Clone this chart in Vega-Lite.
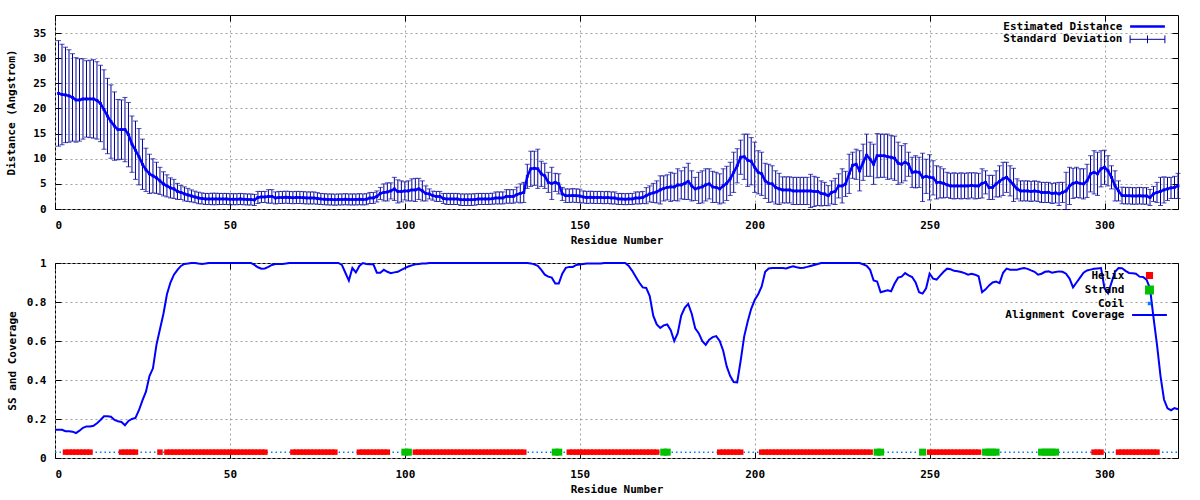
{
"$schema": "https://vega.github.io/schema/vega-lite/v6.json",
"background": "white",
"padding": {"left": 5, "top": 14, "right": 0, "bottom": 0},
"datasets": {
"dist": [
{"r":1,"d":23.0,"s":10.5},{"r":2,"d":22.8,"s":10.0},{"r":3,"d":22.7,"s":9.5},{"r":4,"d":22.5,"s":9.2},{"r":5,"d":22.2,"s":8.7},
{"r":6,"d":21.7,"s":8.4},{"r":7,"d":21.7,"s":8.2},{"r":8,"d":21.9,"s":8.0},{"r":9,"d":21.9,"s":7.6},{"r":10,"d":21.9,"s":7.7},
{"r":11,"d":21.9,"s":7.8},{"r":12,"d":21.6,"s":7.7},{"r":13,"d":21.0,"s":7.6},{"r":14,"d":19.8,"s":7.9},{"r":15,"d":18.5,"s":7.5},
{"r":16,"d":17.4,"s":7.3},{"r":17,"d":16.5,"s":6.8},{"r":18,"d":15.8,"s":6.0},{"r":19,"d":15.8,"s":5.9},{"r":20,"d":15.8,"s":6.4},
{"r":21,"d":14.8,"s":6.4},{"r":22,"d":12.9,"s":5.6},{"r":23,"d":11.7,"s":5.8},{"r":24,"d":10.4,"s":5.6},{"r":25,"d":8.9,"s":5.0},
{"r":26,"d":7.8,"s":4.3},{"r":27,"d":7.0,"s":3.9},{"r":28,"d":6.6,"s":3.4},{"r":29,"d":6.2,"s":3.1},{"r":30,"d":5.6,"s":2.7},
{"r":31,"d":5.0,"s":2.4},{"r":32,"d":4.6,"s":2.2},{"r":33,"d":4.2,"s":2.0},{"r":34,"d":4.0,"s":1.9},{"r":35,"d":3.5,"s":1.6},
{"r":36,"d":3.3,"s":1.4},{"r":37,"d":3.0,"s":1.4},{"r":38,"d":2.8,"s":1.3},{"r":39,"d":2.6,"s":1.2},{"r":40,"d":2.4,"s":1.15},
{"r":41,"d":2.2,"s":1.15},{"r":42,"d":2.1,"s":1.1},{"r":43,"d":2.0,"s":1.1},{"r":44,"d":2.0,"s":1.1},{"r":45,"d":2.0,"s":1.15},
{"r":46,"d":2.0,"s":1.15},{"r":47,"d":2.0,"s":1.1},{"r":48,"d":2.0,"s":1.1},{"r":49,"d":2.0,"s":1.1},{"r":50,"d":1.95,"s":1.1},
{"r":51,"d":1.95,"s":1.1},{"r":52,"d":1.95,"s":1.1},{"r":53,"d":2.0,"s":1.1},{"r":54,"d":1.95,"s":1.1},{"r":55,"d":1.9,"s":1.1},
{"r":56,"d":1.9,"s":1.1},{"r":57,"d":1.8,"s":1.1},{"r":58,"d":2.3,"s":1.2},{"r":59,"d":2.4,"s":1.1},{"r":60,"d":2.4,"s":1.1},
{"r":61,"d":2.5,"s":1.35},{"r":62,"d":2.5,"s":1.35},{"r":63,"d":2.2,"s":1.2},{"r":64,"d":2.3,"s":1.2},{"r":65,"d":2.3,"s":1.2},
{"r":66,"d":2.35,"s":1.2},{"r":67,"d":2.3,"s":1.2},{"r":68,"d":2.25,"s":1.2},{"r":69,"d":2.3,"s":1.2},{"r":70,"d":2.3,"s":1.2},
{"r":71,"d":2.25,"s":1.2},{"r":72,"d":2.2,"s":1.2},{"r":73,"d":2.2,"s":1.2},{"r":74,"d":2.2,"s":1.2},{"r":75,"d":2.1,"s":1.15},
{"r":76,"d":2.0,"s":1.1},{"r":77,"d":1.95,"s":1.1},{"r":78,"d":1.9,"s":1.1},{"r":79,"d":1.9,"s":1.1},{"r":80,"d":1.85,"s":1.1},
{"r":81,"d":1.9,"s":1.1},{"r":82,"d":1.9,"s":1.1},{"r":83,"d":1.95,"s":1.1},{"r":84,"d":1.9,"s":1.1},{"r":85,"d":1.9,"s":1.1},
{"r":86,"d":1.9,"s":1.1},{"r":87,"d":1.95,"s":1.1},{"r":88,"d":1.9,"s":1.1},{"r":89,"d":1.95,"s":1.1},{"r":90,"d":2.2,"s":1.1},
{"r":91,"d":2.2,"s":1.1},{"r":92,"d":2.5,"s":1.1},{"r":93,"d":3.1,"s":1.2},{"r":94,"d":3.3,"s":1.7},{"r":95,"d":3.4,"s":1.8},
{"r":96,"d":3.6,"s":1.6},{"r":97,"d":4.0,"s":2.3},{"r":98,"d":3.5,"s":2.3},{"r":99,"d":3.5,"s":2.1},{"r":100,"d":3.6,"s":1.8},
{"r":101,"d":3.6,"s":2.0},{"r":102,"d":3.8,"s":2.2},{"r":103,"d":3.8,"s":2.3},{"r":104,"d":4.0,"s":2.1},{"r":105,"d":3.6,"s":2.0},
{"r":106,"d":3.1,"s":1.5},{"r":107,"d":3.0,"s":1.0},{"r":108,"d":2.65,"s":0.9},{"r":109,"d":2.5,"s":1.0},{"r":110,"d":2.5,"s":1.0},
{"r":111,"d":2.1,"s":1.0},{"r":112,"d":2.0,"s":1.1},{"r":113,"d":2.0,"s":1.1},{"r":114,"d":2.0,"s":1.1},{"r":115,"d":2.0,"s":1.1},
{"r":116,"d":1.85,"s":1.15},{"r":117,"d":1.85,"s":1.15},{"r":118,"d":1.85,"s":1.15},{"r":119,"d":1.85,"s":1.15},{"r":120,"d":1.9,"s":1.15},
{"r":121,"d":2.0,"s":1.1},{"r":122,"d":2.0,"s":1.1},{"r":123,"d":2.0,"s":1.1},{"r":124,"d":2.0,"s":1.1},{"r":125,"d":2.05,"s":1.1},
{"r":126,"d":2.2,"s":1.2},{"r":127,"d":2.2,"s":1.2},{"r":128,"d":2.2,"s":1.2},{"r":129,"d":2.5,"s":1.35},{"r":130,"d":2.5,"s":1.35},
{"r":131,"d":2.5,"s":1.35},{"r":132,"d":2.85,"s":1.5},{"r":133,"d":3.1,"s":1.9},{"r":134,"d":3.3,"s":2.0},{"r":135,"d":6.5,"s":2.4},
{"r":136,"d":8.0,"s":3.5},{"r":137,"d":8.1,"s":3.4},{"r":138,"d":8.0,"s":3.9},{"r":139,"d":7.0,"s":2.5},{"r":140,"d":6.6,"s":2.5},
{"r":141,"d":5.3,"s":2.0},{"r":142,"d":5.1,"s":3.2},{"r":143,"d":5.3,"s":1.8},{"r":144,"d":5.0,"s":2.0},{"r":145,"d":3.0,"s":1.3},
{"r":146,"d":2.65,"s":1.35},{"r":147,"d":2.65,"s":1.35},{"r":148,"d":2.7,"s":1.35},{"r":149,"d":2.65,"s":1.35},{"r":150,"d":2.6,"s":1.35},
{"r":151,"d":2.4,"s":1.2},{"r":152,"d":2.3,"s":1.2},{"r":153,"d":2.35,"s":1.2},{"r":154,"d":2.3,"s":1.2},{"r":155,"d":2.3,"s":1.2},
{"r":156,"d":2.3,"s":1.2},{"r":157,"d":2.25,"s":1.2},{"r":158,"d":2.3,"s":1.2},{"r":159,"d":2.2,"s":1.2},{"r":160,"d":2.2,"s":1.2},
{"r":161,"d":2.0,"s":1.1},{"r":162,"d":2.0,"s":1.1},{"r":163,"d":1.95,"s":1.1},{"r":164,"d":2.0,"s":1.1},{"r":165,"d":2.0,"s":1.1},
{"r":166,"d":2.2,"s":1.2},{"r":167,"d":2.2,"s":1.2},{"r":168,"d":2.3,"s":1.2},{"r":169,"d":2.65,"s":1.6},{"r":170,"d":3.0,"s":1.6},
{"r":171,"d":3.2,"s":1.9},{"r":172,"d":3.4,"s":2.2},{"r":173,"d":3.8,"s":2.8},{"r":174,"d":4.1,"s":2.5},{"r":175,"d":4.3,"s":2.5},
{"r":176,"d":4.4,"s":2.9},{"r":177,"d":4.4,"s":2.7},{"r":178,"d":4.8,"s":3.2},{"r":179,"d":4.8,"s":2.8},{"r":180,"d":5.1,"s":3.2},
{"r":181,"d":5.5,"s":3.6},{"r":182,"d":4.6,"s":3.0},{"r":183,"d":4.0,"s":2.3},{"r":184,"d":4.2,"s":3.1},{"r":185,"d":4.4,"s":3.2},
{"r":186,"d":4.8,"s":3.2},{"r":187,"d":5.0,"s":3.0},{"r":188,"d":4.4,"s":3.1},{"r":189,"d":4.3,"s":3.0},{"r":190,"d":4.0,"s":3.0},
{"r":191,"d":4.6,"s":3.4},{"r":192,"d":5.1,"s":3.4},{"r":193,"d":6.0,"s":3.3},{"r":194,"d":7.3,"s":4.0},{"r":195,"d":8.6,"s":3.4},
{"r":196,"d":10.3,"s":3.4},{"r":197,"d":10.4,"s":4.5},{"r":198,"d":9.7,"s":5.2},{"r":199,"d":9.5,"s":4.7},{"r":200,"d":8.3,"s":5.0},
{"r":201,"d":7.3,"s":4.3},{"r":202,"d":7.0,"s":4.3},{"r":203,"d":5.6,"s":3.5},{"r":204,"d":5.1,"s":3.8},{"r":205,"d":5.0,"s":3.6},
{"r":206,"d":4.3,"s":3.3},{"r":207,"d":4.0,"s":3.1},{"r":208,"d":3.8,"s":2.6},{"r":209,"d":3.8,"s":2.6},{"r":210,"d":3.8,"s":2.6},
{"r":211,"d":3.6,"s":2.7},{"r":212,"d":3.6,"s":2.7},{"r":213,"d":3.6,"s":2.7},{"r":214,"d":3.6,"s":2.7},{"r":215,"d":3.6,"s":2.7},
{"r":216,"d":3.6,"s":3.3},{"r":217,"d":3.5,"s":3.0},{"r":218,"d":3.5,"s":2.8},{"r":219,"d":3.1,"s":2.5},{"r":220,"d":3.0,"s":2.3},
{"r":221,"d":2.65,"s":2.0},{"r":222,"d":3.3,"s":2.3},{"r":223,"d":3.5,"s":2.6},{"r":224,"d":4.6,"s":2.4},{"r":225,"d":4.6,"s":3.4},
{"r":226,"d":5.0,"s":2.5},{"r":227,"d":7.0,"s":3.9},{"r":228,"d":8.7,"s":2.6},{"r":229,"d":8.9,"s":3.0},{"r":230,"d":7.6,"s":4.0},
{"r":231,"d":9.3,"s":3.6},{"r":232,"d":10.7,"s":4.2},{"r":233,"d":9.9,"s":3.4},{"r":234,"d":8.9,"s":4.0},{"r":235,"d":10.6,"s":4.4},
{"r":236,"d":10.6,"s":4.3},{"r":237,"d":10.6,"s":4.3},{"r":238,"d":10.4,"s":4.5},{"r":239,"d":10.3,"s":4.3},{"r":240,"d":10.1,"s":4.4},
{"r":241,"d":9.1,"s":4.2},{"r":242,"d":8.9,"s":3.7},{"r":243,"d":9.3,"s":3.7},{"r":244,"d":8.9,"s":2.4},{"r":245,"d":7.3,"s":3.0},
{"r":246,"d":7.4,"s":3.2},{"r":247,"d":7.3,"s":3.0},{"r":248,"d":6.3,"s":4.8},{"r":249,"d":6.5,"s":3.4},{"r":250,"d":6.3,"s":4.5},
{"r":251,"d":6.2,"s":3.4},{"r":252,"d":5.3,"s":3.3},{"r":253,"d":5.3,"s":3.1},{"r":254,"d":5.1,"s":2.9},{"r":255,"d":4.8,"s":2.5},
{"r":256,"d":4.6,"s":2.5},{"r":257,"d":4.6,"s":2.6},{"r":258,"d":4.6,"s":2.5},{"r":259,"d":4.6,"s":2.6},{"r":260,"d":4.6,"s":2.5},
{"r":261,"d":4.6,"s":2.6},{"r":262,"d":4.7,"s":2.5},{"r":263,"d":4.6,"s":2.6},{"r":264,"d":4.6,"s":2.5},{"r":265,"d":5.1,"s":2.9},
{"r":266,"d":5.3,"s":2.3},{"r":267,"d":4.3,"s":2.4},{"r":268,"d":4.3,"s":2.4},{"r":269,"d":5.0,"s":2.6},{"r":270,"d":5.5,"s":3.1},
{"r":271,"d":6.0,"s":3.3},{"r":272,"d":6.3,"s":3.0},{"r":273,"d":5.6,"s":3.0},{"r":274,"d":4.8,"s":3.3},{"r":275,"d":4.0,"s":2.0},
{"r":276,"d":3.6,"s":2.0},{"r":277,"d":3.6,"s":2.0},{"r":278,"d":3.6,"s":2.0},{"r":279,"d":3.5,"s":2.0},{"r":280,"d":3.6,"s":2.0},
{"r":281,"d":3.5,"s":2.0},{"r":282,"d":3.3,"s":2.0},{"r":283,"d":3.3,"s":2.0},{"r":284,"d":3.3,"s":2.0},{"r":285,"d":3.1,"s":2.0},
{"r":286,"d":3.2,"s":2.0},{"r":287,"d":3.0,"s":2.3},{"r":288,"d":3.3,"s":2.0},{"r":289,"d":3.6,"s":3.7},{"r":290,"d":4.6,"s":3.7},
{"r":291,"d":5.1,"s":3.0},{"r":292,"d":5.3,"s":3.0},{"r":293,"d":5.1,"s":2.9},{"r":294,"d":5.0,"s":3.0},{"r":295,"d":5.6,"s":3.3},
{"r":296,"d":7.0,"s":3.6},{"r":297,"d":7.3,"s":4.3},{"r":298,"d":7.0,"s":4.3},{"r":299,"d":8.0,"s":3.6},{"r":300,"d":8.3,"s":3.4},
{"r":301,"d":7.6,"s":3.0},{"r":302,"d":6.3,"s":2.3},{"r":303,"d":4.6,"s":3.0},{"r":304,"d":3.6,"s":2.0},{"r":305,"d":2.7,"s":1.65},
{"r":306,"d":2.65,"s":1.65},{"r":307,"d":2.65,"s":1.65},{"r":308,"d":2.6,"s":1.65},{"r":309,"d":2.6,"s":1.65},{"r":310,"d":2.65,"s":1.65},
{"r":311,"d":2.6,"s":1.65},{"r":312,"d":2.6,"s":1.65},{"r":313,"d":2.3,"s":1.6},{"r":314,"d":3.0,"s":1.5},{"r":315,"d":3.3,"s":2.0},
{"r":316,"d":3.5,"s":2.8},{"r":317,"d":3.8,"s":2.6},{"r":318,"d":4.0,"s":2.3},{"r":319,"d":4.2,"s":2.1},{"r":320,"d":4.3,"s":2.2},
{"r":321,"d":4.6,"s":2.5}
],
"cov": [
{"r":0,"c":0.145,"ss":"C"},{"r":1,"c":0.145,"ss":"C"},{"r":2,"c":0.145,"ss":"C"},{"r":3,"c":0.137,"ss":"H"},{"r":4,"c":0.137,"ss":"H"},
{"r":5,"c":0.135,"ss":"H"},{"r":6,"c":0.128,"ss":"H"},{"r":7,"c":0.14,"ss":"H"},{"r":8,"c":0.155,"ss":"H"},{"r":9,"c":0.162,"ss":"H"},
{"r":10,"c":0.162,"ss":"H"},{"r":11,"c":0.165,"ss":"C"},{"r":12,"c":0.178,"ss":"C"},{"r":13,"c":0.195,"ss":"C"},{"r":14,"c":0.214,"ss":"C"},
{"r":15,"c":0.214,"ss":"C"},{"r":16,"c":0.212,"ss":"C"},{"r":17,"c":0.195,"ss":"C"},{"r":18,"c":0.188,"ss":"C"},{"r":19,"c":0.185,"ss":"H"},
{"r":20,"c":0.168,"ss":"H"},{"r":21,"c":0.19,"ss":"H"},{"r":22,"c":0.2,"ss":"H"},{"r":23,"c":0.205,"ss":"H"},{"r":24,"c":0.245,"ss":"C"},
{"r":25,"c":0.295,"ss":"C"},{"r":26,"c":0.34,"ss":"C"},{"r":27,"c":0.42,"ss":"C"},{"r":28,"c":0.46,"ss":"C"},{"r":29,"c":0.58,"ss":"C"},
{"r":30,"c":0.66,"ss":"H"},{"r":31,"c":0.74,"ss":"C"},{"r":32,"c":0.84,"ss":"H"},{"r":33,"c":0.9,"ss":"H"},{"r":34,"c":0.94,"ss":"H"},
{"r":35,"c":0.965,"ss":"H"},{"r":36,"c":0.985,"ss":"H"},{"r":37,"c":0.995,"ss":"H"},{"r":38,"c":0.997,"ss":"H"},{"r":39,"c":1,"ss":"H"},
{"r":40,"c":1,"ss":"H"},{"r":41,"c":0.997,"ss":"H"},{"r":42,"c":0.995,"ss":"H"},{"r":43,"c":0.997,"ss":"H"},{"r":44,"c":1,"ss":"H"},
{"r":45,"c":1,"ss":"H"},{"r":46,"c":1,"ss":"H"},{"r":47,"c":1,"ss":"H"},{"r":48,"c":1,"ss":"H"},{"r":49,"c":1,"ss":"H"},
{"r":50,"c":1,"ss":"H"},{"r":51,"c":1,"ss":"H"},{"r":52,"c":1,"ss":"H"},{"r":53,"c":1,"ss":"H"},{"r":54,"c":1,"ss":"H"},
{"r":55,"c":1,"ss":"H"},{"r":56,"c":1,"ss":"H"},{"r":57,"c":0.99,"ss":"H"},{"r":58,"c":0.978,"ss":"H"},{"r":59,"c":0.971,"ss":"H"},
{"r":60,"c":0.972,"ss":"H"},{"r":61,"c":0.98,"ss":"C"},{"r":62,"c":0.99,"ss":"C"},{"r":63,"c":0.995,"ss":"C"},{"r":64,"c":0.995,"ss":"C"},
{"r":65,"c":0.995,"ss":"C"},{"r":66,"c":0.997,"ss":"C"},{"r":67,"c":1,"ss":"C"},{"r":68,"c":1,"ss":"H"},{"r":69,"c":1,"ss":"H"},
{"r":70,"c":1,"ss":"H"},{"r":71,"c":1,"ss":"H"},{"r":72,"c":1,"ss":"H"},{"r":73,"c":1,"ss":"H"},{"r":74,"c":1,"ss":"H"},
{"r":75,"c":1,"ss":"H"},{"r":76,"c":1,"ss":"H"},{"r":77,"c":1,"ss":"H"},{"r":78,"c":1,"ss":"H"},{"r":79,"c":1,"ss":"H"},
{"r":80,"c":1,"ss":"H"},{"r":81,"c":1,"ss":"C"},{"r":82,"c":0.99,"ss":"C"},{"r":83,"c":0.95,"ss":"C"},{"r":84,"c":0.91,"ss":"C"},
{"r":85,"c":0.975,"ss":"C"},{"r":86,"c":0.952,"ss":"C"},{"r":87,"c":0.985,"ss":"H"},{"r":88,"c":1,"ss":"H"},{"r":89,"c":0.995,"ss":"H"},
{"r":90,"c":0.993,"ss":"H"},{"r":91,"c":0.993,"ss":"H"},{"r":92,"c":0.95,"ss":"H"},{"r":93,"c":0.95,"ss":"H"},{"r":94,"c":0.965,"ss":"H"},
{"r":95,"c":0.955,"ss":"H"},{"r":96,"c":0.948,"ss":"C"},{"r":97,"c":0.952,"ss":"C"},{"r":98,"c":0.955,"ss":"C"},{"r":99,"c":0.965,"ss":"C"},
{"r":100,"c":0.974,"ss":"E"},{"r":101,"c":0.982,"ss":"E"},{"r":102,"c":0.988,"ss":"C"},{"r":103,"c":0.993,"ss":"H"},{"r":104,"c":0.995,"ss":"H"},
{"r":105,"c":0.997,"ss":"H"},{"r":106,"c":0.998,"ss":"H"},{"r":107,"c":1,"ss":"H"},{"r":108,"c":1,"ss":"H"},{"r":109,"c":1,"ss":"H"},
{"r":110,"c":1,"ss":"H"},{"r":111,"c":1,"ss":"H"},{"r":112,"c":1,"ss":"H"},{"r":113,"c":1,"ss":"H"},{"r":114,"c":1,"ss":"H"},
{"r":115,"c":1,"ss":"H"},{"r":116,"c":1,"ss":"H"},{"r":117,"c":1,"ss":"H"},{"r":118,"c":1,"ss":"H"},{"r":119,"c":1,"ss":"H"},
{"r":120,"c":1,"ss":"H"},{"r":121,"c":1,"ss":"H"},{"r":122,"c":1,"ss":"H"},{"r":123,"c":1,"ss":"H"},{"r":124,"c":1,"ss":"H"},
{"r":125,"c":1,"ss":"H"},{"r":126,"c":1,"ss":"H"},{"r":127,"c":1,"ss":"H"},{"r":128,"c":1,"ss":"H"},{"r":129,"c":1,"ss":"H"},
{"r":130,"c":1,"ss":"H"},{"r":131,"c":1,"ss":"H"},{"r":132,"c":1,"ss":"H"},{"r":133,"c":1,"ss":"H"},{"r":134,"c":1,"ss":"H"},
{"r":135,"c":1,"ss":"C"},{"r":136,"c":0.998,"ss":"C"},{"r":137,"c":0.993,"ss":"C"},{"r":138,"c":0.985,"ss":"C"},{"r":139,"c":0.965,"ss":"C"},
{"r":140,"c":0.94,"ss":"C"},{"r":141,"c":0.93,"ss":"C"},{"r":142,"c":0.925,"ss":"C"},{"r":143,"c":0.895,"ss":"E"},{"r":144,"c":0.895,"ss":"E"},
{"r":145,"c":0.945,"ss":"C"},{"r":146,"c":0.975,"ss":"C"},{"r":147,"c":0.98,"ss":"H"},{"r":148,"c":0.98,"ss":"H"},{"r":149,"c":0.99,"ss":"H"},
{"r":150,"c":0.992,"ss":"H"},{"r":151,"c":0.995,"ss":"H"},{"r":152,"c":0.997,"ss":"H"},{"r":153,"c":0.997,"ss":"H"},{"r":154,"c":0.997,"ss":"H"},
{"r":155,"c":0.997,"ss":"H"},{"r":156,"c":0.997,"ss":"H"},{"r":157,"c":1,"ss":"H"},{"r":158,"c":1,"ss":"H"},{"r":159,"c":1,"ss":"H"},
{"r":160,"c":1,"ss":"H"},{"r":161,"c":1,"ss":"H"},{"r":162,"c":1,"ss":"H"},{"r":163,"c":1,"ss":"H"},{"r":164,"c":0.985,"ss":"H"},
{"r":165,"c":0.96,"ss":"H"},{"r":166,"c":0.93,"ss":"H"},{"r":167,"c":0.9,"ss":"H"},{"r":168,"c":0.875,"ss":"H"},{"r":169,"c":0.872,"ss":"H"},
{"r":170,"c":0.83,"ss":"H"},{"r":171,"c":0.73,"ss":"H"},{"r":172,"c":0.685,"ss":"H"},{"r":173,"c":0.667,"ss":"C"},{"r":174,"c":0.68,"ss":"E"},
{"r":175,"c":0.685,"ss":"E"},{"r":176,"c":0.655,"ss":"C"},{"r":177,"c":0.6,"ss":"C"},{"r":178,"c":0.64,"ss":"C"},{"r":179,"c":0.73,"ss":"C"},
{"r":180,"c":0.77,"ss":"C"},{"r":181,"c":0.79,"ss":"C"},{"r":182,"c":0.74,"ss":"C"},{"r":183,"c":0.665,"ss":"C"},{"r":184,"c":0.64,"ss":"C"},
{"r":185,"c":0.6,"ss":"C"},{"r":186,"c":0.58,"ss":"C"},{"r":187,"c":0.607,"ss":"C"},{"r":188,"c":0.62,"ss":"C"},{"r":189,"c":0.625,"ss":"C"},
{"r":190,"c":0.6,"ss":"H"},{"r":191,"c":0.55,"ss":"H"},{"r":192,"c":0.47,"ss":"H"},{"r":193,"c":0.42,"ss":"H"},{"r":194,"c":0.39,"ss":"H"},
{"r":195,"c":0.388,"ss":"H"},{"r":196,"c":0.5,"ss":"H"},{"r":197,"c":0.624,"ss":"C"},{"r":198,"c":0.7,"ss":"C"},{"r":199,"c":0.765,"ss":"C"},
{"r":200,"c":0.81,"ss":"C"},{"r":201,"c":0.84,"ss":"C"},{"r":202,"c":0.88,"ss":"H"},{"r":203,"c":0.955,"ss":"H"},{"r":204,"c":0.972,"ss":"H"},
{"r":205,"c":0.974,"ss":"H"},{"r":206,"c":0.974,"ss":"H"},{"r":207,"c":0.974,"ss":"H"},{"r":208,"c":0.974,"ss":"H"},{"r":209,"c":0.972,"ss":"H"},
{"r":210,"c":0.978,"ss":"H"},{"r":211,"c":0.983,"ss":"H"},{"r":212,"c":0.978,"ss":"H"},{"r":213,"c":0.974,"ss":"H"},{"r":214,"c":0.976,"ss":"H"},
{"r":215,"c":0.98,"ss":"H"},{"r":216,"c":0.985,"ss":"H"},{"r":217,"c":0.99,"ss":"H"},{"r":218,"c":0.995,"ss":"H"},{"r":219,"c":1,"ss":"H"},
{"r":220,"c":1,"ss":"H"},{"r":221,"c":1,"ss":"H"},{"r":222,"c":1,"ss":"H"},{"r":223,"c":1,"ss":"H"},{"r":224,"c":1,"ss":"H"},
{"r":225,"c":1,"ss":"H"},{"r":226,"c":1,"ss":"H"},{"r":227,"c":1,"ss":"H"},{"r":228,"c":1,"ss":"H"},{"r":229,"c":1,"ss":"H"},
{"r":230,"c":1,"ss":"H"},{"r":231,"c":0.993,"ss":"H"},{"r":232,"c":0.985,"ss":"H"},{"r":233,"c":0.965,"ss":"H"},{"r":234,"c":0.91,"ss":"C"},
{"r":235,"c":0.905,"ss":"E"},{"r":236,"c":0.85,"ss":"E"},{"r":237,"c":0.855,"ss":"C"},{"r":238,"c":0.86,"ss":"C"},{"r":239,"c":0.855,"ss":"C"},
{"r":240,"c":0.895,"ss":"C"},{"r":241,"c":0.925,"ss":"C"},{"r":242,"c":0.93,"ss":"C"},{"r":243,"c":0.948,"ss":"C"},{"r":244,"c":0.937,"ss":"C"},
{"r":245,"c":0.928,"ss":"C"},{"r":246,"c":0.9,"ss":"C"},{"r":247,"c":0.85,"ss":"C"},{"r":248,"c":0.843,"ss":"E"},{"r":249,"c":0.87,"ss":"C"},
{"r":250,"c":0.945,"ss":"H"},{"r":251,"c":0.92,"ss":"H"},{"r":252,"c":0.915,"ss":"H"},{"r":253,"c":0.935,"ss":"H"},{"r":254,"c":0.955,"ss":"H"},
{"r":255,"c":0.971,"ss":"H"},{"r":256,"c":0.968,"ss":"H"},{"r":257,"c":0.96,"ss":"H"},{"r":258,"c":0.958,"ss":"H"},{"r":259,"c":0.954,"ss":"H"},
{"r":260,"c":0.948,"ss":"H"},{"r":261,"c":0.94,"ss":"H"},{"r":262,"c":0.945,"ss":"H"},{"r":263,"c":0.94,"ss":"H"},{"r":264,"c":0.932,"ss":"H"},
{"r":265,"c":0.85,"ss":"C"},{"r":266,"c":0.865,"ss":"E"},{"r":267,"c":0.885,"ss":"E"},{"r":268,"c":0.9,"ss":"E"},{"r":269,"c":0.905,"ss":"E"},
{"r":270,"c":0.897,"ss":"C"},{"r":271,"c":0.95,"ss":"C"},{"r":272,"c":0.971,"ss":"C"},{"r":273,"c":0.966,"ss":"C"},{"r":274,"c":0.966,"ss":"C"},
{"r":275,"c":0.966,"ss":"C"},{"r":276,"c":0.97,"ss":"C"},{"r":277,"c":0.974,"ss":"C"},{"r":278,"c":0.97,"ss":"C"},{"r":279,"c":0.962,"ss":"C"},
{"r":280,"c":0.955,"ss":"C"},{"r":281,"c":0.94,"ss":"C"},{"r":282,"c":0.945,"ss":"E"},{"r":283,"c":0.955,"ss":"E"},{"r":284,"c":0.957,"ss":"E"},
{"r":285,"c":0.95,"ss":"E"},{"r":286,"c":0.954,"ss":"E"},{"r":287,"c":0.957,"ss":"C"},{"r":288,"c":0.955,"ss":"C"},{"r":289,"c":0.945,"ss":"C"},
{"r":290,"c":0.92,"ss":"C"},{"r":291,"c":0.875,"ss":"C"},{"r":292,"c":0.9,"ss":"C"},{"r":293,"c":0.925,"ss":"C"},{"r":294,"c":0.95,"ss":"C"},
{"r":295,"c":0.962,"ss":"C"},{"r":296,"c":0.966,"ss":"C"},{"r":297,"c":0.97,"ss":"H"},{"r":298,"c":0.972,"ss":"H"},{"r":299,"c":0.974,"ss":"H"},
{"r":300,"c":0.87,"ss":"C"},{"r":301,"c":0.845,"ss":"C"},{"r":302,"c":0.9,"ss":"C"},{"r":303,"c":0.955,"ss":"C"},{"r":304,"c":0.974,"ss":"H"},
{"r":305,"c":0.973,"ss":"H"},{"r":306,"c":0.96,"ss":"H"},{"r":307,"c":0.949,"ss":"H"},{"r":308,"c":0.947,"ss":"H"},{"r":309,"c":0.945,"ss":"H"},
{"r":310,"c":0.93,"ss":"H"},{"r":311,"c":0.928,"ss":"H"},{"r":312,"c":0.915,"ss":"H"},{"r":313,"c":0.87,"ss":"H"},{"r":314,"c":0.72,"ss":"H"},
{"r":315,"c":0.58,"ss":"H"},{"r":316,"c":0.42,"ss":"C"},{"r":317,"c":0.3,"ss":"C"},{"r":318,"c":0.255,"ss":"C"},{"r":319,"c":0.245,"ss":"C"},
{"r":320,"c":0.256,"ss":"C"},{"r":321,"c":0.25,"ss":"C"}
]
},
"concat": [
{
"width": 1123,
"height": 194,
"data": {"name": "dist"},
"layer": [
{
"mark": {"type": "errorbar", "ticks": {"size": 5, "color": "#000099", "strokeWidth": 1}, "rule": {"strokeWidth": 1}},
"encoding": {
"x": {"field": "r", "type": "quantitative", "scale": {"domain": [0, 321], "nice": false, "zero": false},
"axis": {"title": "Residue Number", "values": [0, 50, 100, 150, 200, 250, 300], "grid": true, "labelPadding": 16, "titlePadding": 4}},
"y": {"field": "d", "type": "quantitative", "scale": {"domain": [0, 38.6], "nice": false},
"axis": {"title": "Distance (Angstrom)", "values": [0, 5, 10, 15, 20, 25, 30, 35], "grid": true, "labelPadding": 15, "titlePadding": 16}},
"yError": {"field": "s"},
"color": {"datum": "Standard Deviation", "type": "nominal",
"scale": {"domain": ["Estimated Distance", "Standard Deviation"], "range": ["#0000ff", "#000099"]},
"legend": {"orient": "none", "legendX": 1087, "legendY": 6, "title": null, "symbolSize": 36, "rowPadding": 0.8, "labelOffset": -30.5,
"encode": {"symbols": {"update": {
"shape": {"signal": "datum.value === 'Standard Deviation' ? 'M-5.8,0H5.8M-5.8,-1.3V1.3M5.8,-1.3V1.3M0,-1.3V1.3' : 'M-5.8,0H5.8'"},
"stroke": {"signal": "datum.value === 'Standard Deviation' ? '#000099' : '#0000ff'"},
"strokeWidth": {"signal": "datum.value === 'Standard Deviation' ? 1 : 2.5"},
"fill": {"value": "transparent"},
"opacity": {"value": 1}}}}}}
}
},
{
"mark": {"type": "line", "strokeWidth": 2.5, "point": {"shape": "square", "size": 8, "filled": true}},
"encoding": {
"x": {"field": "r", "type": "quantitative", "axis": {"orient": "top", "labels": false, "grid": false, "title": null, "values": [0, 50, 100, 150, 200, 250, 300]}},
"y": {"field": "d", "type": "quantitative", "axis": {"orient": "right", "labels": false, "grid": false, "title": null, "values": [0, 5, 10, 15, 20, 25, 30, 35]}},
"color": {"datum": "Estimated Distance", "type": "nominal"}
}
}
],
"resolve": {"axis": {"x": "independent", "y": "independent"}}
},
{
"width": 1123,
"height": 195,
"data": {"name": "cov"},
"layer": [
{
"mark": {"type": "line", "strokeDash": [1.5, 3], "strokeWidth": 1.5},
"encoding": {
"x": {"field": "r", "type": "quantitative", "scale": {"domain": [0, 321], "nice": false, "zero": false},
"axis": {"title": "Residue Number", "values": [0, 50, 100, 150, 200, 250, 300], "grid": true, "labelPadding": 16, "titlePadding": 4}},
"y": {"datum": 0.03, "type": "quantitative", "scale": {"domain": [0, 1], "nice": false},
"axis": {"title": "SS and Coverage", "values": [0, 0.2, 0.4, 0.6, 0.8, 1], "format": "~g", "grid": true, "labelPadding": 15, "titlePadding": 9}},
"color": {"datum": "Coil", "type": "nominal",
"scale": {"domain": ["Helix", "Strand", "Coil", "Alignment Coverage"], "range": ["#ff0000", "#00c000", "#0080ff", "#0000ff"]},
"legend": {"orient": "none", "legendX": 1089, "legendY": 7, "title": null, "symbolSize": 36, "rowPadding": -0.5, "labelOffset": -30.5,
"encode": {"symbols": {"update": {
"shape": {"signal": "datum.value === 'Alignment Coverage' ? 'M-5.8,0H5.8' : datum.value === 'Coil' ? 'M-0.25,-0.25H0.25V0.25H-0.25Z' : datum.value === 'Strand' ? 'M-1.15,-1.15H1.15V1.15H-1.15Z' : 'M-0.85,-0.85H0.85V0.85H-0.85Z'"},
"fill": {"signal": "datum.value === 'Helix' ? '#ff0000' : datum.value === 'Strand' ? '#00c000' : datum.value === 'Coil' ? '#0080ff' : 'transparent'"},
"stroke": {"signal": "datum.value === 'Alignment Coverage' ? '#0000ff' : 'transparent'"},
"strokeWidth": {"value": 2},
"opacity": {"value": 1}}}}}}
}
},
{
"transform": [{"filter": "datum.ss === 'H'"}],
"mark": {"type": "point", "shape": "square", "filled": true, "size": 30, "opacity": 1},
"encoding": {
"x": {"field": "r", "type": "quantitative", "axis": null},
"y": {"datum": 0.03, "type": "quantitative", "axis": null},
"color": {"datum": "Helix", "type": "nominal"}
}
},
{
"transform": [{"filter": "datum.ss === 'E'"}],
"mark": {"type": "point", "shape": "square", "filled": true, "size": 49, "opacity": 1},
"encoding": {
"x": {"field": "r", "type": "quantitative", "axis": null},
"y": {"datum": 0.03, "type": "quantitative", "axis": null},
"color": {"datum": "Strand", "type": "nominal"}
}
},
{
"mark": {"type": "line", "strokeWidth": 2},
"encoding": {
"x": {"field": "r", "type": "quantitative", "axis": {"orient": "top", "labels": false, "grid": false, "title": null, "values": [0, 50, 100, 150, 200, 250, 300]}},
"y": {"field": "c", "type": "quantitative", "axis": {"orient": "right", "labels": false, "grid": false, "title": null, "values": [0, 0.2, 0.4, 0.6, 0.8, 1]}},
"color": {"datum": "Alignment Coverage", "type": "nominal"}
}
}
],
"resolve": {"axis": {"x": "independent", "y": "independent"}}
}
],
"columns": 1,
"spacing": 10,
"resolve": {"scale": {"x": "independent", "y": "independent", "color": "independent"}, "legend": {"color": "independent"}},
"config": {
"font": "DejaVu Sans Mono",
"view": {"stroke": "black", "strokeWidth": 1},
"axis": {"domain": false, "labelFont": "DejaVu Sans Mono", "labelFontWeight": "bold", "labelFontSize": 11, "labelColor": "black",
"titleFont": "DejaVu Sans Mono", "titleFontWeight": "bold", "titleFontSize": 11, "titleColor": "black",
"tickColor": "black", "tickSize": -6, "tickWidth": 1, "gridColor": "#a0a0a0", "gridDash": [2, 3], "gridWidth": 1, "gridOpacity": 1},
"legend": {"labelFont": "DejaVu Sans Mono", "labelFontWeight": "bold", "labelFontSize": 11, "labelColor": "black", "padding": 0,
"labelAlign": "right", "labelLimit": 0}
}
}
